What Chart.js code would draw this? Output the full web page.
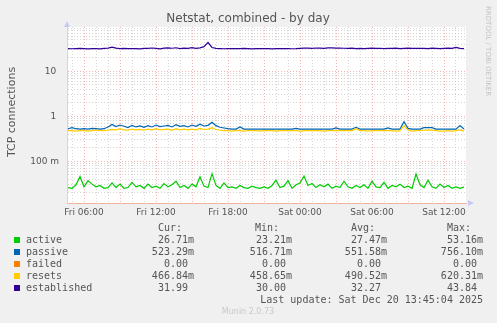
<!DOCTYPE html>
<html>
<head>
<meta charset="utf-8">
<script src="https://cdn.jsdelivr.net/npm/chart.js@4/dist/chart.umd.min.js"></script>
<style>
  html, body { margin: 0; padding: 0; background: #f0f0f0; }
  canvas { display: block; }
</style>
</head>
<body>
<canvas id="netstat" width="497" height="323"></canvas>
<script>
// samples every 20 min, first one Fri 04:40 (hours counted from Fri 00:00)
var startHour = 4 + 40 / 60;
var stepHours = 20 / 60;

var seriesNames = ["active", "passive", "failed", "resets", "established"];
var seriesColors = ["#00CC00", "#0066B3", "#FF8000", "#FFCC00", "#330099"];

var active = [
    0.026, 0.025, 0.030, 0.046, 0.027, 0.037, 0.031, 0.027, 0.029, 0.025,
    0.026, 0.033, 0.026, 0.031, 0.025, 0.026, 0.034, 0.027, 0.029, 0.025,
    0.031, 0.026, 0.028, 0.025, 0.032, 0.027, 0.030, 0.036, 0.026, 0.029,
    0.025, 0.031, 0.027, 0.045, 0.028, 0.026, 0.053, 0.029, 0.025, 0.033,
    0.026, 0.027, 0.025, 0.029, 0.026, 0.025, 0.028, 0.026, 0.025, 0.027,
    0.025, 0.029, 0.038, 0.026, 0.028, 0.037, 0.025, 0.030, 0.033, 0.047,
    0.029, 0.032, 0.026, 0.030, 0.027, 0.031, 0.025, 0.028, 0.026, 0.036,
    0.027, 0.025, 0.029, 0.026, 0.030, 0.025, 0.036, 0.027, 0.026, 0.034,
    0.025, 0.029, 0.027, 0.031, 0.026, 0.028, 0.025, 0.052, 0.030, 0.026,
    0.038, 0.027, 0.025, 0.031, 0.026, 0.029, 0.025, 0.027, 0.025, 0.0267
];
var passive = [
    0.53, 0.56, 0.53, 0.52, 0.53, 0.52, 0.54, 0.53, 0.52, 0.53,
    0.58, 0.66, 0.59, 0.64, 0.60, 0.56, 0.63, 0.58, 0.61, 0.57,
    0.62, 0.58, 0.64, 0.59, 0.61, 0.63, 0.58, 0.65, 0.60, 0.62,
    0.58, 0.64, 0.60, 0.67, 0.61, 0.63, 0.74, 0.62, 0.57, 0.55,
    0.53, 0.52, 0.52, 0.58, 0.52, 0.52, 0.52, 0.52, 0.52, 0.52,
    0.52, 0.52, 0.52, 0.52, 0.52, 0.52, 0.52, 0.54, 0.52, 0.52,
    0.52, 0.52, 0.52, 0.52, 0.52, 0.52, 0.52, 0.55, 0.52, 0.52,
    0.52, 0.52, 0.57, 0.52, 0.52, 0.52, 0.52, 0.52, 0.52, 0.52,
    0.55, 0.52, 0.52, 0.52, 0.756, 0.54, 0.52, 0.52, 0.52, 0.56,
    0.56, 0.56, 0.52, 0.52, 0.52, 0.52, 0.52, 0.52, 0.62, 0.523
];
var failed = [
    0, 0, 0, 0, 0, 0, 0, 0, 0, 0,
    0, 0, 0, 0, 0, 0, 0, 0, 0, 0,
    0, 0, 0, 0, 0, 0, 0, 0, 0, 0,
    0, 0, 0, 0, 0, 0, 0, 0, 0, 0,
    0, 0, 0, 0, 0, 0, 0, 0, 0, 0,
    0, 0, 0, 0, 0, 0, 0, 0, 0, 0,
    0, 0, 0, 0, 0, 0, 0, 0, 0, 0,
    0, 0, 0, 0, 0, 0, 0, 0, 0, 0,
    0, 0, 0, 0, 0, 0, 0, 0, 0, 0,
    0, 0, 0, 0, 0, 0, 0, 0, 0, 0
];
var resets = [
    0.48, 0.48, 0.47, 0.48, 0.48, 0.47, 0.48, 0.49, 0.48, 0.48,
    0.49, 0.51, 0.50, 0.53, 0.50, 0.49, 0.52, 0.50, 0.51, 0.49,
    0.52, 0.50, 0.53, 0.50, 0.51, 0.52, 0.49, 0.53, 0.50, 0.52,
    0.50, 0.52, 0.50, 0.54, 0.51, 0.52, 0.56, 0.51, 0.49, 0.48,
    0.48, 0.47, 0.48, 0.48, 0.47, 0.48, 0.48, 0.48, 0.47, 0.48,
    0.48, 0.48, 0.47, 0.48, 0.48, 0.48, 0.48, 0.48, 0.47, 0.48,
    0.48, 0.48, 0.48, 0.48, 0.47, 0.48, 0.48, 0.48, 0.48, 0.48,
    0.48, 0.48, 0.53, 0.48, 0.48, 0.47, 0.48, 0.48, 0.48, 0.48,
    0.48, 0.48, 0.47, 0.48, 0.62, 0.49, 0.47, 0.48, 0.48, 0.49,
    0.50, 0.49, 0.48, 0.47, 0.47, 0.48, 0.47, 0.48, 0.50, 0.467
];
var established = [
    32.1, 31.8, 32.0, 32.3, 31.9, 31.5, 32.2, 32.0, 31.7, 32.4,
    33.0, 34.6, 32.8, 32.1, 32.5, 31.9, 32.0, 32.2, 31.6, 32.3,
    32.6, 33.1, 32.4, 31.8, 32.9, 33.3, 32.7, 33.5, 32.2, 33.0,
    32.4, 33.8, 32.6, 33.2, 35.5, 43.8, 34.0, 32.5, 32.1, 31.8,
    32.0, 32.2, 31.9, 32.1, 32.3, 32.0, 31.7, 32.2, 32.0, 31.9,
    32.1, 31.6, 32.0, 32.2, 31.9, 32.1, 31.8, 32.0, 32.4, 32.8,
    32.9, 32.6, 33.1, 32.8, 32.5, 33.4, 33.2, 32.9, 33.0, 32.7,
    32.4, 32.8, 32.2, 32.6, 32.0, 32.5, 32.9, 32.3, 32.7, 32.1,
    32.6, 32.4, 32.8, 32.2, 32.5, 32.9, 32.3, 32.7, 32.4, 32.6,
    32.2, 32.8, 32.5, 32.1, 32.6, 33.0, 32.4, 34.2, 32.5, 31.99
];

// legend table text
var curText = ["26.71m", "523.29m", "0.00 ", "466.84m", "31.99 "];
var minText = ["23.21m", "516.71m", "0.00 ", "458.65m", "30.00 "];
var avgText = ["27.47m", "551.58m", "0.00 ", "490.52m", "32.27 "];
var maxText = ["53.16m", "756.10m", "0.00 ", "620.31m", "43.84 "];
var lastUpdate = "Last update: Sat Dec 20 13:45:04 2025";

// axes
var xMin = 4 + 35 / 60, xMax = 37 + 50 / 60;
var hourTicks = [5, 6, 7, 8, 9, 10, 11, 12, 13, 14, 15, 16, 17, 18, 19, 20, 21,
    22, 23, 24, 25, 26, 27, 28, 29, 30, 31, 32, 33, 34, 35, 36, 37];
var yMin = 0.0118, yMax = 97;
var yTicks = [0.02, 0.03, 0.04, 0.05, 0.06, 0.07, 0.08, 0.09,
    0.1, 0.2, 0.3, 0.4, 0.5, 0.6, 0.7, 0.8, 0.9,
    1, 2, 3, 4, 5, 6, 7, 8, 9,
    10, 20, 30, 40, 50, 60, 70, 80, 90];
var yMajor = [0.1, 1, 10];
var yLabels = ["100 m", "1 ", "10 "];

var allSeries = [active, passive, failed, resets, established];
var times = active.map(function(v, i) { return startHour + i * stepHours; });

var textColor = "#555555";
var minorGrid = "rgba(200,200,200,0.75)";
var majorGrid = "rgba(240,160,160,0.8)";

function hourLabel(h)
{
    if (h % 6 !== 0) return "";
    var day = h < 24 ? "Fri" : "Sat";
    var hh = h % 24;
    return day + " " + (hh < 10 ? "0" + hh : hh) + ":00";
}

function isMajorY(v)
{
    return yMajor.some(function(m) { return Math.abs(v - m) < m * 1e-6; });
}

var muninPlugin = {
    id: "munin",
    beforeDraw: function(chart)
    {
        var ctx = chart.ctx, a = chart.chartArea;
        ctx.save();
        ctx.fillStyle = "#f0f0f0";
        ctx.fillRect(0, 0, chart.width, chart.height);
        ctx.fillStyle = "#ffffff";
        ctx.fillRect(a.left, a.top, a.right - a.left, a.bottom - a.top);
        ctx.restore();
    },
    afterDraw: function(chart)
    {
        var ctx = chart.ctx, a = chart.chartArea;
        ctx.save();

        // arrows at the ends of the axes
        ctx.fillStyle = "#c6caf2";
        ctx.beginPath();
        ctx.moveTo(a.left, a.top - 6);
        ctx.lineTo(a.left - 3, a.top);
        ctx.lineTo(a.left + 3, a.top);
        ctx.fill();
        ctx.beginPath();
        ctx.moveTo(a.right + 8, a.bottom);
        ctx.lineTo(a.right + 2, a.bottom - 3);
        ctx.lineTo(a.right + 2, a.bottom + 3);
        ctx.fill();

        // title
        ctx.fillStyle = textColor;
        ctx.font = "12px 'DejaVu Sans'";
        ctx.textAlign = "center";
        ctx.textBaseline = "middle";
        ctx.fillText("Netstat, combined - by day", 248, 19);

        // vertical axis title
        ctx.save();
        ctx.translate(12, 112);
        ctx.rotate(-Math.PI / 2);
        ctx.font = "11px 'DejaVu Sans'";
        ctx.fillText("TCP connections", 0, 0);
        ctx.restore();

        // rrdtool credit
        ctx.save();
        ctx.translate(488, 6);
        ctx.rotate(Math.PI / 2);
        ctx.fillStyle = "#c4c4c4";
        ctx.font = "7px 'DejaVu Sans'";
        ctx.textAlign = "left";
        ctx.fillText("RRDTOOL / TOBI OETIKER", 0, 0);
        ctx.restore();

        // legend table
        ctx.font = "10px 'DejaVu Sans Mono'";
        ctx.textAlign = "left";
        ctx.fillStyle = textColor;
        ctx.fillText("Cur:", 158, 228);
        ctx.fillText("Min:", 255, 228);
        ctx.fillText("Avg:", 351, 228);
        ctx.fillText("Max:", 447, 228);
        seriesNames.forEach(function(name, i)
        {
            var y = 240 + i * 12;
            ctx.fillStyle = seriesColors[i];
            ctx.fillRect(14, y - 3, 6, 6);
            ctx.fillStyle = textColor;
            ctx.textAlign = "left";
            ctx.fillText(name, 26, y);
            ctx.textAlign = "right";
            ctx.fillText(curText[i], 194, y);
            ctx.fillText(minText[i], 292, y);
            ctx.fillText(avgText[i], 387, y);
            ctx.fillText(maxText[i], 483, y);
        });
        ctx.textAlign = "right";
        ctx.fillText(lastUpdate, 483, 300);

        // footer
        ctx.textAlign = "center";
        ctx.fillStyle = "#c8c8c8";
        ctx.font = "8px 'DejaVu Sans'";
        ctx.fillText("Munin 2.0.73", 248, 312);
        ctx.restore();
    }
};

new Chart("netstat", {
    type: "line",
    data: {
        datasets: allSeries.map(function(values, i)
        {
            return {
                label: seriesNames[i],
                data: values.map(function(v, j) { return { x: times[j], y: v }; }),
                borderColor: seriesColors[i],
                borderWidth: 1.2,
                pointRadius: 0,
                tension: 0,
                fill: false,
                order: allSeries.length - 1 - i
            };
        })
    },
    options: {
        responsive: false,
        animation: false,
        events: [],
        layout: { padding: { top: 27, right: 31, left: 0, bottom: 0 } },
        plugins: {
            legend: { display: false },
            tooltip: { enabled: false }
        },
        scales: {
            x: {
                type: "linear",
                min: xMin,
                max: xMax,
                afterFit: function(scale) { scale.height = 120; },
                afterBuildTicks: function(scale)
                {
                    scale.ticks = hourTicks.map(function(h) { return { value: h }; });
                },
                ticks: {
                    autoSkip: false,
                    maxRotation: 0,
                    padding: 4,
                    color: textColor,
                    font: { family: "'DejaVu Sans'", size: 9 },
                    callback: function(v) { return hourLabel(v); }
                },
                grid: {
                    drawTicks: false,
                    lineWidth: 1,
                    color: function(c) { return c.tick && c.tick.value % 3 === 0 ? majorGrid : minorGrid; }
                },
                border: { color: "#f0b49c", width: 1, dash: [1, 2] }
            },
            y: {
                type: "logarithmic",
                min: yMin,
                max: yMax,
                afterFit: function(scale) { scale.width = 67; },
                afterBuildTicks: function(scale)
                {
                    scale.ticks = yTicks.map(function(v) { return { value: v }; });
                },
                ticks: {
                    autoSkip: false,
                    padding: 8,
                    color: textColor,
                    font: { family: "'DejaVu Sans'", size: 9 },
                    callback: function(v)
                    {
                        for (var k = 0; k < yMajor.length; k++)
                            if (Math.abs(v - yMajor[k]) < yMajor[k] * 1e-6) return yLabels[k];
                        return "";
                    }
                },
                grid: {
                    drawTicks: false,
                    lineWidth: 1,
                    color: function(c) { return c.tick && isMajorY(c.tick.value) ? majorGrid : minorGrid; }
                },
                border: { color: "#d0d4f4", width: 1, dash: [1, 2] }
            }
        }
    },
    plugins: [muninPlugin]
});
</script>
</body>
</html>
